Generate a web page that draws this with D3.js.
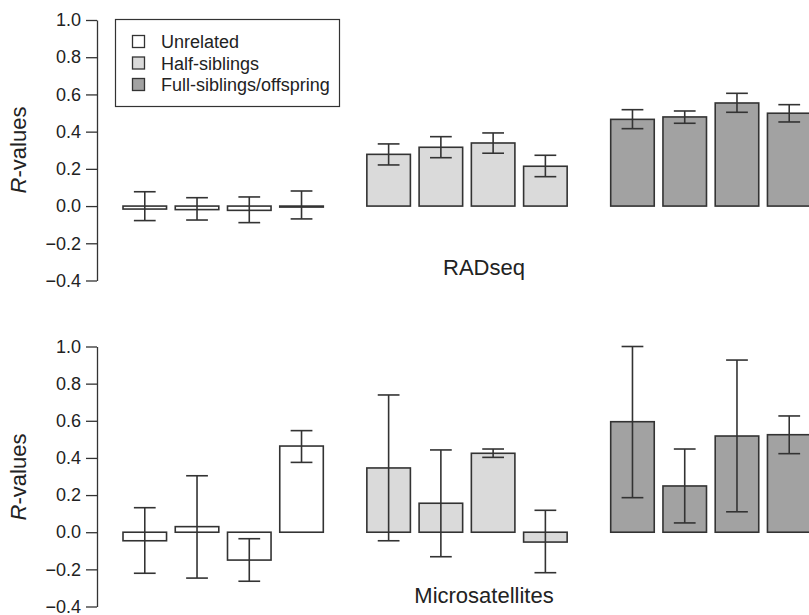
<!DOCTYPE html>
<html>
<head>
<meta charset="utf-8">
<script src="https://cdn.jsdelivr.net/npm/d3@7"></script>
<style>
  html, body { margin: 0; padding: 0; background: #fff; }
  svg { display: block; font-family: "Liberation Sans", Arial, sans-serif; }
</style>
</head>
<body>
<div id="chart"></div>
<script>
// ---- Data ----
const groups = ["Unrelated", "Half-siblings", "Full-siblings/offspring"];
const estimators = ["1", "2", "3", "4"];
const groupColors = ["#ffffff", "#dadada", "#a2a2a2"];
const yTicks = [-0.4, -0.2, 0.0, 0.2, 0.4, 0.6, 0.8, 1.0];
const panelTitles = ["RADseq", "Microsatellites"];

// RADseq (12 bars: 4 per group)
const radseqMean = [-0.016, -0.019, -0.023, -0.003, 0.278, 0.316, 0.339, 0.214, 0.466, 0.479, 0.554, 0.499];
const radseqLow  = [-0.078, -0.075, -0.089, -0.069, 0.221, 0.260, 0.284, 0.158, 0.416, 0.445, 0.504, 0.452];
const radseqHigh = [0.077, 0.045, 0.049, 0.081, 0.334, 0.373, 0.393, 0.273, 0.518, 0.511, 0.606, 0.545];

// Microsatellites
const msatMean = [-0.046, 0.030, -0.150, 0.464, 0.346, 0.156, 0.425, -0.053, 0.595, 0.249, 0.518, 0.525];
const msatLow  = [-0.221, -0.247, -0.264, 0.376, -0.046, -0.132, 0.403, -0.218, 0.186, 0.050, 0.110, 0.423];
const msatHigh = [0.132, 0.304, -0.035, 0.547, 0.739, 0.443, 0.448, 0.118, 1.000, 0.448, 0.927, 0.626];

// ---- Layout ----
const W = 809, H = 615;
const svg = d3.select("#chart").append("svg").attr("width", W).attr("height", H);

const xGroup = d3.scaleBand().domain(groups).range([123, 811]).paddingInner(0.1786).paddingOuter(0);
const xBar = d3.scaleBand().domain(estimators).range([0, xGroup.bandwidth()]).paddingInner(1 / 6).paddingOuter(0);

const panels = [
  { title: panelTitles[0], mean: radseqMean, low: radseqLow, high: radseqHigh, yRange: [280.5, 20], titleY: 275, labelY: 150 },
  { title: panelTitles[1], mean: msatMean, low: msatLow, high: msatHigh, yRange: [606.5, 346.5], titleY: 603, labelY: 477 }
];

const ink = "#333";

panels.forEach(p => {
  const y = d3.scaleLinear().domain([-0.4, 1.0]).range(p.yRange);
  const rows = p.mean.map((v, i) => ({
    group: groups[Math.floor(i / 4)],
    gi: Math.floor(i / 4),
    est: estimators[i % 4],
    v, lo: p.low[i], hi: p.high[i]
  }));
  const g = svg.append("g");

  // bars
  g.selectAll("rect.bar").data(rows).join("rect")
    .attr("class", "bar")
    .attr("x", d => xGroup(d.group) + xBar(d.est))
    .attr("width", xBar.bandwidth())
    .attr("y", d => y(Math.max(0, d.v)))
    .attr("height", d => Math.max(1, Math.abs(y(d.v) - y(0))))
    .attr("fill", d => groupColors[d.gi])
    .attr("stroke", ink)
    .attr("stroke-width", 1.6);

  // error bars
  const cx = d => xGroup(d.group) + xBar(d.est) + xBar.bandwidth() / 2;
  const cap = xBar.bandwidth() / 4;
  const eb = g.selectAll("g.err").data(rows).join("g").attr("class", "err")
    .attr("stroke", ink).attr("stroke-width", 1.6);
  eb.append("line").attr("x1", cx).attr("x2", cx).attr("y1", d => y(d.lo)).attr("y2", d => y(d.hi));
  eb.append("line").attr("x1", d => cx(d) - cap).attr("x2", d => cx(d) + cap).attr("y1", d => y(d.hi)).attr("y2", d => y(d.hi));
  eb.append("line").attr("x1", d => cx(d) - cap).attr("x2", d => cx(d) + cap).attr("y1", d => y(d.lo)).attr("y2", d => y(d.lo));

  // y axis
  const axis = d3.axisLeft(y).tickValues(yTicks).tickFormat(d3.format(".1f"))
    .tickSizeInner(11).tickSizeOuter(0).tickPadding(5);
  const ag = svg.append("g").attr("transform", "translate(97,0)").call(axis);
  ag.select(".domain").attr("stroke", ink).attr("stroke-width", 1.3);
  ag.selectAll(".tick line").attr("stroke", ink).attr("stroke-width", 1.3);
  ag.selectAll(".tick text").attr("fill", "#222").style("font-size", "18px")
    .style("font-family", "'Liberation Sans', Arial, sans-serif");

  // y label
  const lab = svg.append("text")
    .attr("transform", `translate(26,${p.labelY}) rotate(-90)`)
    .attr("text-anchor", "middle")
    .attr("fill", "#222")
    .style("font-size", "22px");
  lab.append("tspan").style("font-style", "italic").text("R");
  lab.append("tspan").text("-values");

  // panel title
  svg.append("text")
    .attr("x", 484).attr("y", p.titleY)
    .attr("text-anchor", "middle")
    .attr("fill", "#222")
    .style("font-size", "22px")
    .text(p.title);
});

// legend
const lg = svg.append("g");
lg.append("rect").attr("x", 115.5).attr("y", 19.5).attr("width", 224).attr("height", 87)
  .attr("fill", "#fff").attr("stroke", ink).attr("stroke-width", 1.2);
const legendY = d3.scalePoint().domain(groups).range([42, 85]);
const items = lg.selectAll("g.item").data(groups).join("g").attr("class", "item")
  .attr("transform", d => `translate(0,${legendY(d)})`);
items.append("rect").attr("x", 132.5).attr("y", -6.5).attr("width", 12).attr("height", 12)
  .attr("fill", (d, i) => groupColors[i]).attr("stroke", ink).attr("stroke-width", 1.3);
items.append("text").attr("x", 161).attr("y", 0).attr("dy", "0.35em")
  .attr("fill", "#222").style("font-size", "18px").text(d => d);
</script>
</body>
</html>
